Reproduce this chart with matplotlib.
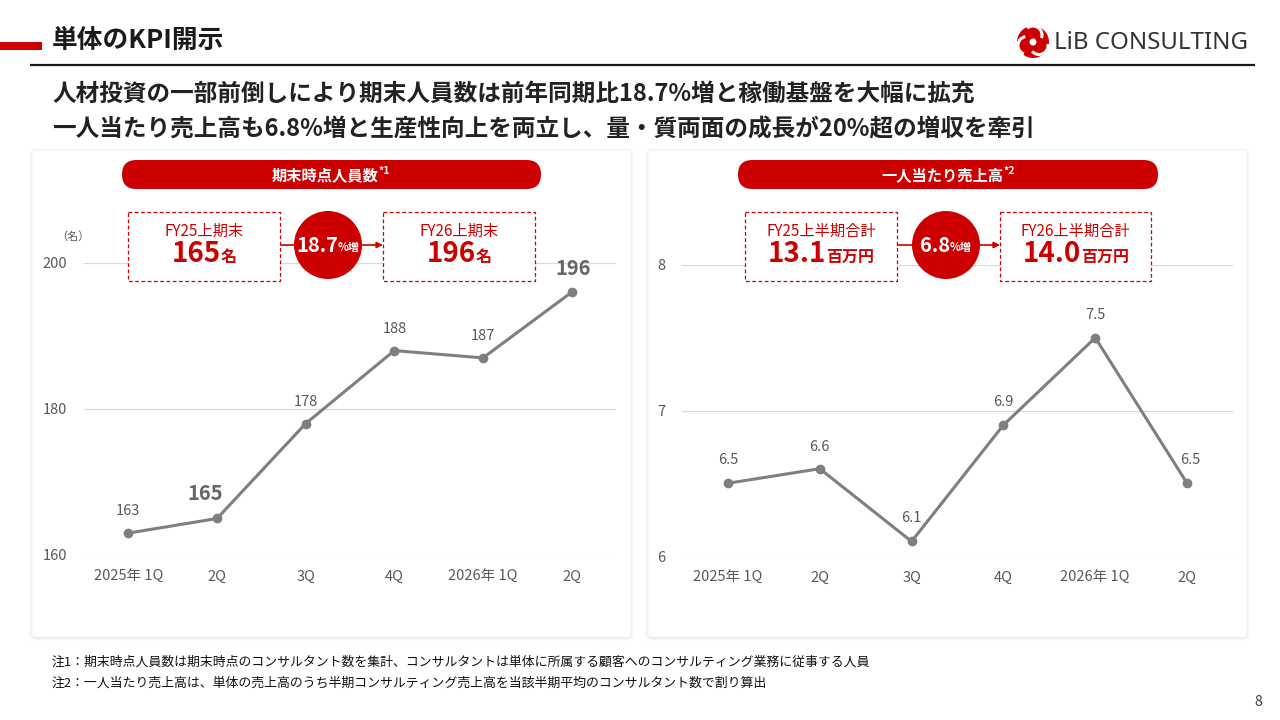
import matplotlib
matplotlib.use('Agg')
import matplotlib.pyplot as plt
from matplotlib.patches import FancyBboxPatch, Rectangle, Circle, FancyArrowPatch, Arc
from matplotlib.offsetbox import TextArea, HPacker, AnnotationBbox
import numpy as np

plt.rcParams['font.family'] = ['Noto Sans CJK JP', 'DejaVu Sans']

# ---------------- data ----------------
categories = ['2025年 1Q', '2Q', '3Q', '4Q', '2026年 1Q', '2Q']
headcount = [163, 165, 178, 188, 187, 196]
sales_per_person = [6.5, 6.6, 6.1, 6.9, 7.5, 6.5]
headcount_ticks = [160, 180, 200]
sales_ticks = [6, 7, 8]

title = '単体のKPI開示'
subtitle_lines = ['人材投資の一部前倒しにより期末人員数は前年同期比18.7%増と稼働基盤を大幅に拡充',
                  '一人当たり売上高も6.8%増と生産性向上を両立し、量・質両面の成長が20%超の増収を牽引']
left_header = '期末時点人員数'
right_header = '一人当たり売上高'
left_kpi = [('FY25上期末', '165', '名'), ('FY26上期末', '196', '名')]
left_growth = ('18.7', '%増')
right_kpi = [('FY25上半期合計', '13.1', '百万円'), ('FY26上半期合計', '14.0', '百万円')]
right_growth = ('6.8', '%増')
unit_left = '（名）'
footnotes = ['注1：期末時点人員数は期末時点のコンサルタント数を集計、コンサルタントは単体に所属する顧客へのコンサルティング業務に従事する人員',
             '注2：一人当たり売上高は、単体の売上高のうち半期コンサルティング売上高を当該半期平均のコンサルタント数で割り算出']
page_no = '8'

RED = '#CC0000'
GRAY_TXT = '#595959'
LINE = '#7F7F7F'

W, H = 1280, 720
fig = plt.figure(figsize=(12.8, 7.2), dpi=100)
fig.patch.set_facecolor('white')


def px_axes(x0, y0, x1, y1):
    return fig.add_axes([x0 / W, 1 - y1 / H, (x1 - x0) / W, (y1 - y0) / H])


def overlay_axes(z):
    a = px_axes(0, 0, W, H)
    a.set_xlim(0, W)
    a.set_ylim(H, 0)
    a.axis('off')
    a.set_zorder(z)
    a.patch.set_alpha(0)
    return a


bg = overlay_axes(0)
top = overlay_axes(5)

# ---------------- header ----------------
bg.add_patch(Rectangle((0, 42), 42, 8, color=RED, lw=0))
bg.text(52, 40, title, fontsize=18.5, fontweight='bold', color='#1a1a1a', ha='left', va='center')
bg.plot([30, 1255], [65, 65], color='#1a1a1a', lw=1.6, solid_capstyle='butt')
# logo
bg.add_patch(Circle((1033, 42), 16, color=RED, lw=0))
for k in range(3):
    a = 90 + 120 * k
    cx = 1033 + 7 * np.cos(np.radians(a))
    cy = 42 - 7 * np.sin(np.radians(a))
    bg.add_patch(Arc((cx, cy), 18, 18, angle=0, theta1=-a - 40, theta2=-a + 110,
                     color='white', lw=2.2))
bg.add_patch(Circle((1033, 42), 3.5, color='white', lw=0))
bg.text(1054, 43, 'LiB CONSULTING', fontsize=17.3, color='#333333', ha='left', va='center',
        family=['Noto Sans', 'DejaVu Sans'])

for i, line in enumerate(subtitle_lines):
    bg.text(52, 94 + 35 * i, line, fontsize=17.0, fontweight='bold', color='#222222',
            ha='left', va='center')

# ---------------- cards ----------------
for (x0, x1) in [(32, 631), (648, 1247)]:
    for j, al in enumerate([0.012, 0.018, 0.025, 0.03]):
        p = 4 - j
        bg.add_patch(FancyBboxPatch((x0 - p + 1, 150 - p + 2), x1 - x0 + 2 * p - 2, 487 + 2 * p - 2,
                                    boxstyle='round,pad=0,rounding_size=6', fc='black', ec='none',
                                    alpha=al))
    bg.add_patch(FancyBboxPatch((x0, 150), x1 - x0, 487, boxstyle='round,pad=0,rounding_size=4',
                                fc='white', ec='#F3F3F3', lw=0.5))


# ---------------- charts ----------------
def draw_chart(ax, values, ticks, fmt, bold_idx, offsets):
    x = np.arange(len(values))
    ax.patch.set_alpha(0)
    ax.set_zorder(2)
    ax.plot(x, values, color=LINE, lw=2.2, marker='o', ms=6, mfc=LINE, mec=LINE,
            solid_joinstyle='round', zorder=3, clip_on=False)
    ax.set_xlim(-0.5, len(values) - 0.5)
    ax.set_ylim(ticks[0], ticks[-1])
    ax.set_yticks(ticks)
    ax.set_yticklabels([str(t) for t in ticks])
    ax.set_xticks(x)
    ax.set_xticklabels(categories)
    ax.grid(axis='y', color='#D9D9D9', lw=0.9)
    ax.set_axisbelow(True)
    for s in ax.spines.values():
        s.set_visible(False)
    ax.tick_params(length=0, colors=GRAY_TXT, labelsize=10.5)
    ax.tick_params(axis='y', pad=12)
    ax.tick_params(axis='x', pad=11)
    for i, v in enumerate(values):
        dx, dy = offsets[i]
        bold = i in bold_idx
        ax.annotate(fmt.format(v), (i, v), xytext=(dx, dy), textcoords='offset pixels',
                    ha='center', va='center', color=GRAY_TXT if not bold else '#666666',
                    fontsize=14.5 if bold else 10.5, fontweight='bold' if bold else 'normal',
                    annotation_clip=False, zorder=4)


axL = px_axes(84, 263, 616, 555)
draw_chart(axL, headcount, headcount_ticks, '{:d}', [1, 5],
           [(0, 22), (-12, 25), (0, 22), (0, 22), (0, 22), (1, 24)])
axR = px_axes(682, 265, 1233, 556)
draw_chart(axR, sales_per_person, sales_ticks, '{:.1f}', [],
           [(0, 23), (0, 22), (0, 23), (0, 23), (0, 23), (3, 23)])

bg.text(73, 237, unit_left, fontsize=8, color=GRAY_TXT, ha='center', va='center')


# ---------------- overlay: headers, KPI boxes ----------------
def packed(ax, xy, parts, align='baseline', sep=0):
    children = [TextArea(t, textprops=dict(color=c, size=s, weight=w)) for (t, c, s, w) in parts]
    box = HPacker(children=children, align=align, pad=0, sep=sep)
    ab = AnnotationBbox(box, xy, xycoords='data', frameon=False, box_alignment=(0.5, 0.5),
                        pad=0, zorder=10)
    ax.add_artist(ab)


def panel_overlay(ax, pill, header, sup, kpis, growth, boxes, circle_c):
    px0, px1 = pill
    ax.add_patch(FancyBboxPatch((px0, 160), px1 - px0, 29, boxstyle='round,pad=0,rounding_size=14.5',
                                fc=RED, ec='none', zorder=6))
    t = ax.text((px0 + px1) / 2 - 6, 175, header, color='white', fontsize=11, fontweight='bold',
                ha='center', va='center', zorder=7)
    ax.annotate(sup, xy=(1, 0.72), xycoords=t, ha='left', va='center', color='white',
                fontsize=7.5, fontweight='bold', zorder=7)
    for (bx0, bx1), (lab, num, unit) in zip(boxes, kpis):
        ax.add_patch(Rectangle((bx0, 212), bx1 - bx0, 69, fc='white', ec=RED, lw=0.9,
                               ls=(0, (3, 2)), zorder=6))
        cx = (bx0 + bx1) / 2
        ax.text(cx, 231, lab, color=RED, fontsize=11, ha='center', va='center', zorder=7)
        packed(ax, (cx, 254), [(num, RED, 20, 'bold'), (unit, RED, 11.5, 'bold')])
    ccx = circle_c
    ax.add_patch(Circle((ccx, 245), 34, fc=RED, ec='none', zorder=6))
    packed(ax, (ccx, 245), [(growth[0], 'white', 14.5, 'bold'), (growth[1], 'white', 8, 'bold')])
    ax.plot([boxes[0][1], ccx - 34], [245, 245], color=RED, lw=1.2, zorder=5)
    ax.add_patch(FancyArrowPatch((ccx + 34, 245), (boxes[1][0], 245), arrowstyle='-|>',
                                 mutation_scale=9, color=RED, lw=1.2, shrinkA=0, shrinkB=0, zorder=5))


panel_overlay(top, (122, 541), left_header, '*1', left_kpi, left_growth,
              [(128, 280), (383, 535)], 328)
panel_overlay(top, (738, 1158), right_header, '*2', right_kpi, right_growth,
              [(745, 897), (1000, 1151)], 946)

# ---------------- footnotes ----------------
for i, fn in enumerate(footnotes):
    bg.text(52, 662 + 21 * i, fn, fontsize=9.3, color='#111111', ha='left', va='center')
bg.text(1258, 702, page_no, fontsize=10, color='#404040', ha='center', va='center')

fig.savefig('out.png', dpi=100, facecolor='white')
